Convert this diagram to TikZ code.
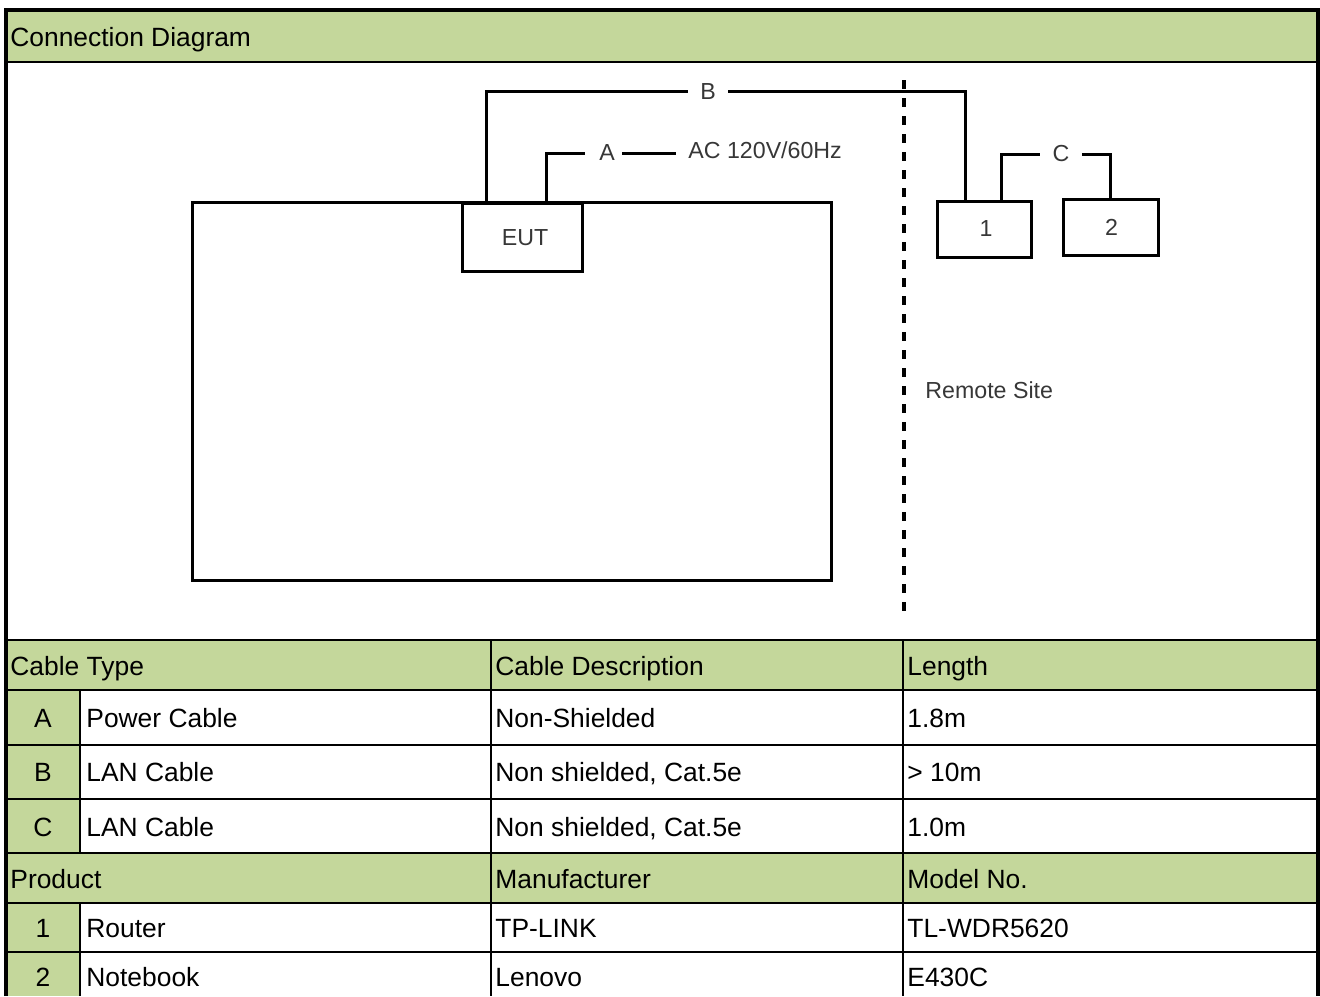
\documentclass[tikz,border=0pt]{standalone}
\usepackage{fontspec}
\setmainfont{Liberation Sans}
\usetikzlibrary{calc}
\definecolor{hdr}{RGB}{196,215,155}
\definecolor{ink}{RGB}{55,55,55}
\begin{document}
\begin{tikzpicture}[x=0.5pt,y=-0.5pt,
 cell/.style={inner sep=0pt, font=\fontsize{13.2}{15}\selectfont, anchor=base west},
 celc/.style={inner sep=0pt, font=\fontsize{13.2}{15}\selectfont, anchor=base},
 dev/.style={draw, line width=1.5pt, inner sep=0pt, font=\fontsize{11.6}{14}\selectfont, text=ink},
 lbl/.style={inner xsep=6pt, inner ysep=0pt, font=\fontsize{11.6}{14}\selectfont, text=ink},
 wire/.style={line width=1.5pt},
 grid/.style={line width=1.4pt},
 frame/.style={line width=2.2pt},
]
\useasboundingbox (0,0) rectangle (1320,996);
% fills
\fill[hdr] (6,10) rectangle (1318,62);
\fill[hdr] (6,640) rectangle (1318,690);
\fill[hdr] (6,853) rectangle (1318,903);
\fill[hdr] (6,690) rectangle (80,853);
\fill[hdr] (6,903) rectangle (80,996);
% grid lines
\foreach \yy in {62,640,690,745,799,853,903,952}
  \draw[grid] (6,\yy) -- (1318,\yy);
\draw[grid] (80,690) -- (80,853);
\draw[grid] (80,903) -- (80,996);
\draw[grid] (491,640) -- (491,996);
\draw[grid] (903,640) -- (903,996);
% frame
\draw[frame] (6,996) -- (6,10) -- (1318,10) -- (1318,996);
% title
\node[cell] (title) at (10,46) {Connection Diagram};
% diagram
\node[dev, minimum width=319.5pt, minimum height=189pt] (big) at (511.5,391) {};
\node[dev, minimum width=60pt, minimum height=34pt, text width=60pt, align=center] (eut) at (522,237.5) {\hspace*{3pt}EUT};
\node[dev, minimum width=47pt, minimum height=28pt] (r1) at (984,229) {\hspace*{2pt}1};
\node[dev, minimum width=47.5pt, minimum height=28pt] (r2) at (1110.5,227) {\hspace*{1pt}2};
\node[lbl] (lblB) at (708,91.5) {B};
\node[lbl, inner xsep=3.5pt] (lblA) at (607,153) {A};
\node[lbl] (lblC) at (1061,154) {C};
\node[lbl, anchor=west] (ac) at (676,150) {AC 120V/60Hz};
\node[lbl, anchor=west, inner xsep=0pt] (remote) at (925,390) {Remote Site};
\draw[wire] ($(eut.north west)+(26,0)$) |- (lblB.west);
\draw[wire] (lblB.east) -| ($(r1.north west)+(30,0)$);
\draw[wire] ($(eut.north west)+(86,0)$) |- ($(lblA.west)+(-7,0)$);
\draw[wire] (lblA.east) -- (lblA.east -| ac.west);
\draw[wire] ($(r1.north west)+(66,0)$) |- (lblC.west);
\draw[wire] (lblC.east) -| (r2.north);
\coordinate (dtop) at (904,80);
\coordinate (dbot) at (904,615);
\draw[line width=1.6pt, dash pattern=on 4.5pt off 4.5pt] (dtop) -- (dbot);
% table header 1
\node[cell] (h1) at (10,675) {Cable Type};
\node[cell] (h2) at (495,675) {Cable Description};
\node[cell] (h3) at (907,675) {Length};
% cable rows
\node[celc] (ka) at (43,727) {A};
\node[cell] (ta) at (86,727) {Power Cable};
\node[cell] (da) at (495,727) {Non-Shielded};
\node[cell] (la) at (907,727) {1.8m};
\node[celc] (kb) at (43,781) {B};
\node[cell] (tb) at (86,781) {LAN Cable};
\node[cell] (db) at (495,781) {Non shielded, Cat.5e};
\node[cell] (lb) at (907,781) {> 10m};
\node[celc] (kc) at (43,836) {C};
\node[cell] (tc) at (86,836) {LAN Cable};
\node[cell] (dc) at (495,836) {Non shielded, Cat.5e};
\node[cell] (lc) at (907,836) {1.0m};
% product header
\node[cell] (p1) at (10,888) {Product};
\node[cell] (p2) at (495,888) {Manufacturer};
\node[cell] (p3) at (907,888) {Model No.};
% product rows
\node[celc] (k1) at (43,937) {1};
\node[cell] (n1) at (86,937) {Router};
\node[cell] (m1) at (495,937) {TP-LINK};
\node[cell] (o1) at (907,937) {TL-WDR5620};
\node[celc] (k2) at (43,986) {2};
\node[cell] (n2) at (86,986) {Notebook};
\node[cell] (m2) at (495,986) {Lenovo};
\node[cell] (o2) at (907,986) {E430C};
\end{tikzpicture}
\end{document}
